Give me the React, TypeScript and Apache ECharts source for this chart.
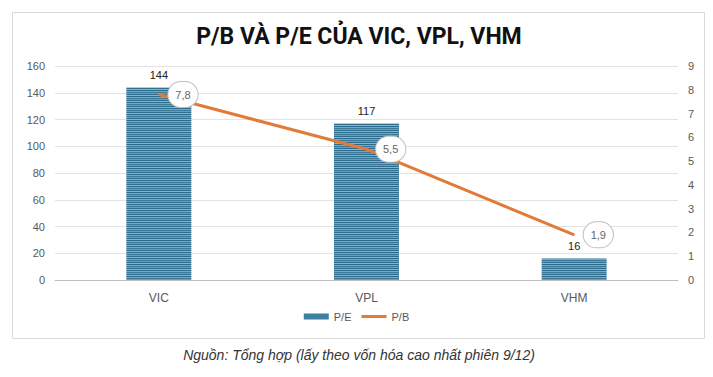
import React, { useEffect, useRef } from "react";
import * as echarts from "echarts";

const categories = ["VIC", "VPL", "VHM"];
const peValues = [144, 117, 16];
const pbValues = [7.8, 5.5, 1.9];
const leftTicks = { min: 0, max: 160, interval: 20 };
const rightTicks = { min: 0, max: 9, interval: 1 };

function makeStripe(): HTMLCanvasElement {
  const c = document.createElement("canvas");
  c.width = 4;
  c.height = 6;
  const ctx = c.getContext("2d")!;
  const rows = ["#2d6b8c", "#6eaacb", "#3a7a9b", "#62a0c0", "#2f6e8f", "#80b6d2"];
  rows.forEach((col, i) => {
    ctx.fillStyle = col;
    ctx.fillRect(0, i, 4, 1);
  });
  return c;
}

export default function App() {
  const ref = useRef<HTMLDivElement>(null);
  useEffect(() => {
    if (!ref.current) return;
    const chart = echarts.init(ref.current, undefined, { renderer: "svg" });
    const stripe = makeStripe();
    const barColor: any = { image: stripe, repeat: "repeat" };
    chart.setOption({
      animation: false,
      backgroundColor: "#ffffff",
      textStyle: { fontFamily: "Liberation Sans, Arial, sans-serif" },
      graphic: [
        {
          type: "rect",
          shape: { x: 12.5, y: 12.5, width: 692, height: 326 },
          style: { fill: "none", stroke: "#d9d9d9", lineWidth: 1 },
          silent: true,
        },
        {
          type: "text",
          x: 359,
          y: 36,
          style: {
            text: "P/B VÀ P/E CỦA VIC, VPL, VHM",
            font: "bold 23px Roboto, sans-serif",
            fill: "#111111",
            align: "center",
            verticalAlign: "middle",
          },
        },
        {
          type: "text",
          x: 359,
          y: 355,
          style: {
            text: "Nguồn: Tổng hợp (lấy theo vốn hóa cao nhất phiên 9/12)",
            font: "italic 14px Liberation Sans, Arial, sans-serif",
            fill: "#333333",
            align: "center",
            verticalAlign: "middle",
          },
        },
      ],
      grid: { left: 55, right: 35, top: 66, bottom: 97, containLabel: false },
      legend: {
        bottom: 50,
        left: "center",
        itemWidth: 25,
        itemHeight: 6,
        itemGap: 10,
        textStyle: { color: "#595959", fontSize: 11 },
        data: [
          { name: "P/E", icon: "rect", itemStyle: { color: "#3f7fa0" } },
          {
            name: "P/B",
            icon: "path://M0 0L0.01 0L0.01 0.01Z M0 1.6L25 1.6L25 4.4L0 4.4Z M0 6L0.01 6L0.01 5.99Z",
            itemStyle: { color: "#e07b39" },
          },
        ],
      },
      xAxis: {
        type: "category",
        data: categories,
        axisLine: { lineStyle: { color: "#bfbfbf" } },
        axisTick: { show: false },
        axisLabel: { color: "#595959", fontSize: 12, margin: 12 },
      },
      yAxis: [
        {
          type: "value",
          min: leftTicks.min,
          max: leftTicks.max,
          interval: leftTicks.interval,
          axisLabel: { color: "#595959", fontSize: 11, margin: 10 },
          splitLine: { lineStyle: { color: "#e3e3e3" } },
          axisLine: { show: false },
        },
        {
          type: "value",
          min: rightTicks.min,
          max: rightTicks.max,
          interval: rightTicks.interval,
          axisLabel: { color: "#595959", fontSize: 11, margin: 10 },
          splitLine: { show: false },
          axisLine: { show: false },
        },
      ],
      series: [
        {
          name: "P/E",
          type: "bar",
          data: peValues,
          barWidth: 65,
          itemStyle: { color: barColor },
          label: {
            show: true,
            position: "top",
            color: "#222222",
            fontSize: 11,
            distance: 7,
          },
        },
        {
          name: "P/B",
          type: "line",
          yAxisIndex: 1,
          data: pbValues,
          symbol: "circle",
          symbolSize: 1,
          itemStyle: { color: "#e07b39" },
          lineStyle: { color: "#e07b39", width: 3 },
          label: {
            show: true,
            position: "right",
            distance: 9,
            formatter: (p: any) => String(p.value).replace(".", ","),
            color: "#666666",
            fontSize: 11,
            backgroundColor: "#ffffff",
            borderColor: "#bfbfbf",
            borderWidth: 1,
            borderRadius: 14,
            padding: [7, 7],
          },
          z: 5,
        },
      ],
    });
    return () => chart.dispose();
  }, []);
  return (
    <div
      ref={ref}
      style={{ position: "fixed", left: 0, top: 0, width: 713, height: 377 }}
    />
  );
}
